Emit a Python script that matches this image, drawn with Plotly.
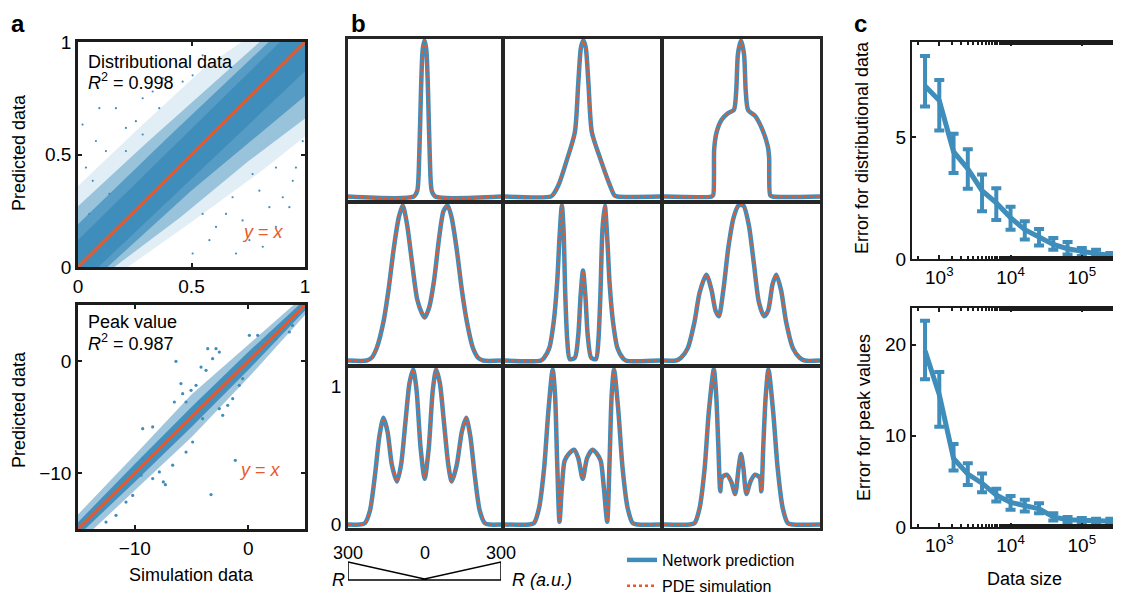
import plotly.graph_objects as go

W, H = 1121, 593
OFF = 8  # page body margin: figure is placed 8px from the window's top-left corner
FW, FH = W - OFF, H - OFF
FONT = "Liberation Sans, Arial, Helvetica, sans-serif"
BLUE = "#3f8dbb"
ORANGE = "#e8582a"
AXC = "#1c1c1c"


def px(v):
    return (v - OFF) / FW


def py(v):
    return 1 - (v - OFF) / FH


# ---------------- Panel a (top): distributional data ----------------
# density bands of the scatter cloud (edges), outer -> inner
dist_b1_up_x = [0.0, 0.25, 0.55, 0.72]
dist_b1_up_y = [0.36, 0.60, 0.88, 1.00]
dist_b1_lo_x = [1.00, 0.80, 0.50, 0.22]
dist_b1_lo_y = [0.58, 0.42, 0.20, 0.00]
dist_b2_up_x = [0.0, 0.30, 0.60, 0.80]
dist_b2_up_y = [0.27, 0.55, 0.82, 1.00]
dist_b2_lo_x = [1.00, 0.75, 0.45, 0.16]
dist_b2_lo_y = [0.66, 0.47, 0.22, 0.00]
dist_b3_up_x = [0.0, 0.40, 0.84]
dist_b3_up_y = [0.19, 0.58, 1.00]
dist_b3_lo_x = [1.00, 0.50, 0.13]
dist_b3_lo_y = [0.76, 0.34, 0.00]
dist_core_up_x = [0.0, 0.89]
dist_core_up_y = [0.12, 1.00]
dist_core_lo_x = [1.00, 0.09]
dist_core_lo_y = [0.87, 0.00]
dist_sparse_x = [0.065, 0.035, 0.123, 0.211, 0.079, 0.167, 0.285, 0.255, 0.373, 0.138,
                 0.050, 0.329, 0.432, 0.211, 0.358, 0.461, 0.549, 0.020, 0.094, 0.505,
                 0.285, 0.579, 0.725, 0.872, 0.946, 0.902, 0.814, 0.696, 0.652, 0.799,
                 0.960, 0.931, 0.755, 0.843, 0.608, 0.505, 0.872, 0.990, 0.769, 0.681,
                 0.549]
dist_sparse_y = [0.383, 0.442, 0.515, 0.618, 0.560, 0.706, 0.750, 0.648, 0.838, 0.325,
                 0.236, 0.780, 0.912, 0.515, 0.706, 0.824, 0.941, 0.633, 0.706, 0.852,
                 0.589, 0.119, 0.207, 0.178, 0.383, 0.310, 0.090, 0.060, 0.236, 0.339,
                 0.442, 0.266, 0.119, 0.266, 0.178, 0.060, 0.442, 0.559, 0.413, 0.310,
                 0.236]
identity_dist = [0.0, 1.0]

# ---------------- Panel a (bottom): peak value ----------------
peak_band_x = [-15, -10, -5, 0, 5]
peak_inner_up = [-14.4, -9.2, -4.1, 0.8, 5.5]
peak_inner_lo = [-15.6, -10.8, -5.9, -0.8, 4.5]
peak_outer_up = [-13.7, -8.4, -3.0, 1.5, 5.9]
peak_outer_lo = [-16.3, -11.5, -6.8, -1.5, 4.1]
peak_sparse_x = [-6.37, -8.42, -3.28, -1.14, -7.48, -7.30, -5.93, -5.78, -5.48, -6.51,
                 -5.04, -4.60, -4.16, -3.72, -3.14, -2.84, -2.55, -3.57, 0.10, 0.83,
                 -4.31, -2.55, -2.25, -4.02, -8.13, -9.30, -4.90, -1.81, -1.37, -0.79,
                 -0.49, -9.45, -8.42, -10.77, -11.65, -12.53, -10.18, -7.83, -6.66, -5.48,
                 -7.54, -9.30, 1.27, 2.44, 3.62, 4.20, 3.90]
peak_sparse_y = [-0.03, -5.89, -11.93, -8.87, -10.80, -11.04, -2.02, -2.92, -3.66, -3.66,
                 -2.62, -2.17, -0.54, -0.83, 0.21, 1.10, 0.80, 1.10, 2.29, 2.29,
                 -3.66, -4.26, -4.85, -5.15, -8.13, -8.72, -7.23, -3.96, -3.36, -2.17,
                 -1.58, -10.20, -10.50, -12.60, -13.78, -14.38, -12.00, -9.90, -9.30, -8.13,
                 -7.23, -6.04, 1.40, 1.99, 2.59, 4.08, 3.18]
identity_peak = [-15, 5]

# ---------------- Panel b: 3x3 profiles (R in a.u., normalised value) ----------------
b_r = [
    [-300, -42, -28.5, -20.5, -13.9, -7.3, 0, 7.3, 13.9, 20.5, 28.5, 42, 300],
    [-300, -122, -111.4, -89, -62.6, -29.7, -16.5, -5.9, 3.3, 12.5, 23, 36.3, 69.2, 102, 123, 135, 300],
    [-300, -117.4, -110.9, -107, -97.8, -78.3, -52.2, -31.3, -22.2, -15.7, -3.9, 7.8, 14.3, 23.5,
     49.6, 78.3, 99.1, 104.3, 108.3, 117.4, 300],
    [-300, -227, -207.3, -187.4, -160.9, -141.1, -121.2, -101.3, -85.4, -68.2, -48.4, -28.5, -9.9,
     0.7, 17.9, 37.7, 57.6, 74.8, 90.7, 106.6, 126.5, 146.4, 166.2, 190, 210, 229.8, 300],
    [-300, -161.5, -148.4, -128.6, -111.4, -98.2, -89, -79.8, -73.2, -66.6, -58.7, -49.5, -29.7,
     -16.5, -7.3, 1.9, 11.1, 20.3, 33.6, 52.1, 61.3, 69.2, 77.1, 86.4, 95.6, 104.8, 118, 135.2,
     155, 168.1, 300],
    [-300, -254.3, -234.8, -208.7, -182.6, -163, -137, -117.4, -101.7, -88.7, -71.7, -52.2, -32.6,
     -13, 5.2, 26, 45.7, 65.2, 84.8, 100.4, 117.4, 131.7, 150, 169.6, 195.7, 221.7, 241.3, 300],
    [-300, -253.6, -233.8, -213.9, -194, -176.8, -160.9, -145, -127.8, -107.9, -92, -74.8, -58.9,
     -44.4, -31.1, -15.2, 0.7, 16.6, 32.5, 45.7, 60.3, 76.2, 93.4, 106.6, 126.5, 146.4, 163.6,
     179.5, 196.7, 216.6, 236.5, 256.3, 300],
    [-300, -207.7, -187.9, -168.1, -148.4, -132.5, -115.4, -106.1, -98.2, -89, -79.8, -69.2, -53.4,
     -32.3, -16.5, 0.7, 17.8, 38.9, 56, 70.6, 82.4, 95.6, 104.8, 112.8, 122, 139.2, 155, 174.7,
     194.5, 214.3, 300],
    [-300, -202.2, -182.6, -163, -143.5, -127.8, -108.3, -99.1, -91.3, -83.5, -77, -58.7, -41.7,
     -26.1, -13, -3.9, 5.2, 17, 32.6, 49.6, 67.8, 74.3, 82.2, 91.3, 101.7, 120, 137, 156.5, 176.1,
     195.7, 300],
]
b_val = [
    [0, 0, 0.04, 0.30, 0.75, 1.05, 1.12, 1.05, 0.75, 0.30, 0.04, 0, 0],
    [0, 0, 0.02, 0.10, 0.25, 0.46, 0.81, 1.07, 1.12, 1.07, 0.81, 0.46, 0.27, 0.10, 0.01, 0, 0],
    [0, 0, 0.01, 0.34, 0.46, 0.55, 0.60, 0.62, 0.76, 1.02, 1.12, 1.02, 0.76, 0.62,
     0.58, 0.48, 0.36, 0.28, 0.01, 0, 0],
    [0, 0, 0.02, 0.09, 0.28, 0.51, 0.80, 1.03, 1.12, 0.98, 0.70, 0.44, 0.34,
     0.31, 0.38, 0.58, 0.89, 1.08, 1.12, 1.03, 0.80, 0.51, 0.28, 0.09, 0.02, 0, 0],
    [0, 0, 0.02, 0.09, 0.28, 0.56, 0.89, 1.12, 0.94, 0.47, 0.14, 0.01, 0.02,
     0.18, 0.47, 0.65, 0.47, 0.18, 0.02, 0.01, 0.14, 0.47, 0.94, 1.12, 0.89, 0.56, 0.28, 0.09,
     0.02, 0, 0],
    [0, 0, 0.02, 0.09, 0.28, 0.49, 0.62, 0.51, 0.36, 0.32, 0.51, 0.82, 1.03,
     1.12, 1.12, 0.98, 0.70, 0.42, 0.32, 0.36, 0.55, 0.62, 0.51, 0.28, 0.09, 0.02, 0, 0],
    [0, 0, 0.01, 0.10, 0.36, 0.64, 0.77, 0.67, 0.43, 0.31, 0.43, 0.74, 1.02,
     1.12, 0.97, 0.55, 0.33, 0.55, 0.97, 1.12, 1.02, 0.74, 0.43, 0.31, 0.43, 0.67, 0.77,
     0.64, 0.36, 0.10, 0.01, 0, 0],
    [0, 0, 0.01, 0.12, 0.41, 0.81, 1.12, 0.93, 0.46, 0.02, 0.27, 0.46, 0.51,
     0.54, 0.48, 0.33, 0.48, 0.54, 0.51, 0.46, 0.27, 0.02, 0.46, 0.93, 1.12, 0.81, 0.41, 0.12,
     0.01, 0, 0],
    [0, 0, 0.01, 0.12, 0.41, 0.81, 1.12, 0.93, 0.58, 0.24, 0.34, 0.36, 0.31,
     0.22, 0.41, 0.51, 0.41, 0.22, 0.31, 0.36, 0.34, 0.24, 0.58, 0.93, 1.12, 0.81, 0.41, 0.12, 0.01,
     0, 0],
]
scheme_ticks = [-300, 0, 300]
scheme_labels = ["300", "0", "300"]

# ---------------- Panel c: error vs data size ----------------
data_size = [631, 1000, 1585, 2512, 3981, 6310, 10000, 15849, 25119, 39811,
             63096, 100000, 158489, 251189, 398107]
err_dist_mean = [7.1, 6.5, 4.4, 3.7, 2.8, 2.3, 1.7, 1.2, 0.9, 0.6, 0.42, 0.3, 0.22, 0.15, 0.1]
err_dist_hi = [8.33, 7.34, 5.14, 4.5, 3.47, 2.9, 2.14, 1.55, 1.23, 0.86, 0.7, 0.45, 0.38, 0.25, 0.18]
err_dist_lo = [6.25, 5.27, 3.53, 2.88, 1.96, 1.6, 1.2, 0.8, 0.55, 0.38, 0.18, 0.12, 0.08, 0.05, 0.03]
err_peak_mean = [19.3, 14.5, 7.5, 5.8, 4.8, 3.5, 2.7, 2.3, 2.0, 1.1, 0.8, 0.75, 0.65, 0.65, 0.6]
err_peak_hi = [22.6, 17.0, 9.1, 7.0, 5.85, 4.2, 3.4, 3.0, 2.6, 1.5, 1.1, 1.0, 0.9, 0.9, 0.85]
err_peak_lo = [16.2, 11.0, 6.2, 4.6, 3.8, 2.8, 1.9, 1.7, 1.5, 0.7, 0.55, 0.5, 0.4, 0.4, 0.35]
c_tickvals = [1e3, 1e4, 1e5]
c_ticktext = ["10<sup>3</sup>", "10<sup>4</sup>", "10<sup>5</sup>"]

fig = go.Figure()


def band(up_x, up_y, lo_x, lo_y, c1, c2):
    return up_x + [c1[0]] + lo_x + [c2[0]], up_y + [c1[1]] + lo_y + [c2[1]]


# panel a top
for (ux, uy, lx, ly, op) in [
    (dist_b1_up_x, dist_b1_up_y, dist_b1_lo_x, dist_b1_lo_y, 0.15),
    (dist_b2_up_x, dist_b2_up_y, dist_b2_lo_x, dist_b2_lo_y, 0.45),
    (dist_b3_up_x, dist_b3_up_y, dist_b3_lo_x, dist_b3_lo_y, 0.72),
    (dist_core_up_x, dist_core_up_y, dist_core_lo_x, dist_core_lo_y, 1.0),
]:
    bx, by = band(ux, uy, lx, ly, (1, 1), (0, 0))
    fig.add_trace(go.Scatter(x=bx, y=by, fill="toself", mode="lines", line=dict(width=0),
                             fillcolor=BLUE, opacity=op, showlegend=False, hoverinfo="skip",
                             xaxis="x", yaxis="y"))
fig.add_trace(go.Scatter(x=dist_sparse_x, y=dist_sparse_y, mode="markers",
                         marker=dict(size=2.2, color=BLUE), showlegend=False, xaxis="x", yaxis="y"))
fig.add_trace(go.Scatter(x=identity_dist, y=identity_dist, mode="lines",
                         line=dict(color=ORANGE, width=3), showlegend=False, xaxis="x", yaxis="y"))

# panel a bottom
for (up, lo, op) in [(peak_outer_up, peak_outer_lo, 0.5), (peak_inner_up, peak_inner_lo, 0.95)]:
    fig.add_trace(go.Scatter(x=peak_band_x + peak_band_x[::-1], y=up + lo[::-1], fill="toself",
                             mode="lines", line=dict(width=0), fillcolor=BLUE, opacity=op,
                             showlegend=False, hoverinfo="skip", xaxis="x2", yaxis="y2"))
fig.add_trace(go.Scatter(x=peak_sparse_x, y=peak_sparse_y, mode="markers",
                         marker=dict(size=3.2, color=BLUE), showlegend=False, xaxis="x2", yaxis="y2"))
fig.add_trace(go.Scatter(x=identity_peak, y=identity_peak, mode="lines",
                         line=dict(color=ORANGE, width=3), showlegend=False, xaxis="x2", yaxis="y2"))

# panel b
for i in range(9):
    ax = str(3 + i)
    fig.add_trace(go.Scatter(x=b_r[i], y=b_val[i], mode="lines",
                             line=dict(color=BLUE, width=4.5, shape="spline", smoothing=0.7),
                             name="Network prediction", legendgroup="net", showlegend=(i == 0),
                             xaxis="x" + ax, yaxis="y" + ax))
    fig.add_trace(go.Scatter(x=b_r[i], y=b_val[i], mode="lines",
                             line=dict(color=ORANGE, width=2.5, dash="dot", shape="spline", smoothing=0.7),
                             name="PDE simulation", legendgroup="pde", showlegend=(i == 0),
                             xaxis="x" + ax, yaxis="y" + ax))

# panel c
for (m, hi, lo, ax) in [(err_dist_mean, err_dist_hi, err_dist_lo, "12"),
                        (err_peak_mean, err_peak_hi, err_peak_lo, "13")]:
    fig.add_trace(go.Scatter(
        x=data_size, y=m, mode="lines", line=dict(color=BLUE, width=5),
        error_y=dict(type="data", array=[h - v for h, v in zip(hi, m)],
                     arrayminus=[v - l for v, l in zip(m, lo)],
                     color=BLUE, thickness=4, width=5),
        showlegend=False, xaxis="x" + ax, yaxis="y" + ax))

tickfont = dict(family=FONT, size=19, color="black")


def base_axis(**kw):
    d = dict(showline=True, linecolor=AXC, linewidth=2.5, mirror="ticks", ticks="inside",
             ticklen=4, tickwidth=2, tickcolor=AXC, showgrid=False, zeroline=False,
             tickfont=tickfont)
    d.update(kw)
    return d


layout = dict(
    width=FW, height=FH, margin=dict(l=0, r=0, t=0, b=0, autoexpand=False),
    paper_bgcolor="white", plot_bgcolor="white",
    font=dict(family=FONT, size=18, color="black"),
    xaxis=base_axis(domain=[px(78), px(305)], range=[0, 1], tickvals=[0, 0.5, 1],
                    ticktext=["0", "0.5", "1"], anchor="y"),
    yaxis=base_axis(domain=[py(267), py(42)], range=[0, 1], tickvals=[0, 0.5, 1],
                    ticktext=["0", "0.5", "1"], anchor="x"),
    xaxis2=base_axis(domain=[px(78), px(305)], range=[-15, 5], tickvals=[-10, 0], anchor="y2"),
    yaxis2=base_axis(domain=[py(529), py(305)], range=[-15, 5], tickvals=[-10, 0], anchor="x2"),
    showlegend=True,
    legend=dict(x=px(622), y=py(543), xanchor="left", yanchor="top", bgcolor="rgba(0,0,0,0)",
                font=dict(family=FONT, size=16), traceorder="grouped", tracegroupgap=2),
)

cols = [(348, 501), (505, 660), (664, 820)]
rows = [(39, 200), (204, 364), (368, 528)]
for i in range(9):
    r, c = divmod(i, 3)
    n = str(3 + i)
    layout["xaxis" + n] = dict(domain=[px(cols[c][0]), px(cols[c][1])], range=[-300, 300],
                               showline=True, mirror=True, linecolor="#262626", linewidth=2.5,
                               ticks="", showticklabels=False, showgrid=False, zeroline=False,
                               anchor="y" + n)
    show = (i == 6)
    layout["yaxis" + n] = dict(domain=[py(rows[r][1]), py(rows[r][0])], range=[-0.025, 1.13],
                               showline=True, mirror=True, linecolor="#262626", linewidth=2.5,
                               ticks="", showticklabels=show, tickvals=[0, 1], ticktext=["0", "1"],
                               tickfont=tickfont, showgrid=False, zeroline=False, anchor="x" + n)

for n, ydom, yr, ytv in [("12", (259, 42), [0, 8.9], [0, 5]),
                         ("13", (527, 308), [0, 24], [0, 10, 20])]:
    layout["xaxis" + n] = base_axis(domain=[px(912), 1.0], type="log", range=[2.617, 5.55],
                                    tickvals=c_tickvals, ticktext=c_ticktext, anchor="y" + n,
                                    linewidth=2, ticklen=4,
                                    minor=dict(ticks="inside", ticklen=3, tickwidth=1.5, tickcolor=AXC))
    layout["yaxis" + n] = base_axis(domain=[py(ydom[0]), py(ydom[1])], range=yr, tickvals=ytv,
                                    mirror=False, linewidth=2, anchor="x" + n)

fig.update_layout(**layout)

ann = []


def text(x, y, s, size=18, xanchor="center", yanchor="middle", **kw):
    d = dict(x=x, y=y, xref="paper", yref="paper", text=s, showarrow=False,
             xanchor=xanchor, yanchor=yanchor,
             font=dict(family=FONT, size=size, color=kw.pop("color", "black")))
    d.update(kw)
    ann.append(d)


# panel letters
text(px(18), py(23), "<b>a</b>", size=24)
text(px(358), py(23), "<b>b</b>", size=24)
text(px(860), py(23), "<b>c</b>", size=24)
# panel a texts
text(px(86), py(62), "Distributional data", xanchor="left")
text(px(86), py(81), "<i>R</i><sup>2</sup> = 0.998", xanchor="left")
text(px(263), py(232), "<i>y</i> = <i>x</i>", color=ORANGE)
text(px(86), py(322), "Peak value", xanchor="left")
text(px(86), py(342), "<i>R</i><sup>2</sup> = 0.987", xanchor="left")
text(px(260), py(470), "<i>y</i> = <i>x</i>", color=ORANGE)
text(px(19), py(153), "Predicted data", textangle=-90)
text(px(19), py(410), "Predicted data", textangle=-90)
text(px(191), py(575), "Simulation data")
# panel c texts
text(px(862), py(148), "Error for distributional data", textangle=-90)
text(px(864), py(418), "Error for peak values", textangle=-90)
text(px(1024), py(579), "Data size")
# schematic labels
for v, lab in zip(scheme_ticks, scheme_labels):
    ann.append(dict(x=v, y=py(553), xref="x9", yref="paper", text=lab, showarrow=False,
                    xanchor="center", yanchor="middle",
                    font=dict(family=FONT, size=18, color="black")))
text(px(338), py(580), "<i>R</i>")
text(px(510), py(580), "<i>R (a.u.)</i>", xanchor="left")

fig.update_layout(annotations=ann)

fig.add_shape(type="path", xref="x9", yref="paper",
              path=f"M -300,{py(562)} L 0,{py(579)} L 300,{py(562)} L 300,{py(580)} L -300,{py(580)} Z",
              line=dict(color="black", width=1.5))

fig.write_html("out.html")
